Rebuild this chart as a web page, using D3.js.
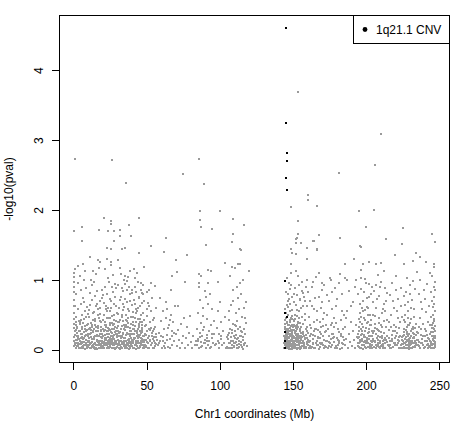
<!DOCTYPE html>
<html>
<head>
<meta charset="utf-8">
<script src="https://cdn.jsdelivr.net/npm/d3@7"></script>
<style>
  body { margin: 0; background: #fff; }
  text { font-family: "Liberation Sans", Arial, Helvetica, sans-serif; font-size: 12px; fill: #000; }
</style>
</head>
<body>
<div class="canvas"></div>
<script>
// [position (Mb), -log10(pval)], chromosome 1 p arm
const pArm = [
  [0.4,0.05],[0.5,0.18],[0.6,0.31],[0.5,0.44],[0.7,0.52],[0.4,0.63],[0.6,0.71],[0.5,0.82],[0.7,0.9],[0.5,0.97],[0.6,1.04],[0.5,1.1],[0.8,1.15],[0.9,0.26],[0.6,0.37],[1.1,0.09],[1.4,0.21],[1.8,0.03],[2.2,0.14],[2.5,0.33],[2.9,0.07],[3.1,0.58],[3.4,0.19],[3.7,0.41],[4.0,0.02],[4.2,0.12],[4.6,0.27],[4.9,0.66],[5.1,0.08],[5.3,0.16],[5.6,0.49],[5.9,0.04],[6.1,0.23],[6.4,0.11],[6.7,0.38],[6.9,0.74],[7.2,0.06],[7.5,0.17],[7.8,0.29],[8.0,0.55],[8.3,0.1],[8.6,0.21],[8.9,0.88],[9.2,0.03],[9.5,0.35],[9.8,0.13],[1.6,0.47],[2.0,0.79],[3.0,0.95],[4.4,1.05],[5.0,0.85],[6.3,1.22],[7.0,0.99],[8.1,1.12],[9.0,0.61],[2.7,0.24],[3.9,0.15],[5.8,0.3],[7.6,0.44],[9.6,0.07],[1.3,0.62],[4.8,0.39],[6.6,0.02],[8.8,0.26],[3.3,0.09],[5.5,0.11],[7.3,0.68],[2.4,0.05],[9.9,0.51],[1.9,0.28],
  [10.1,0.04],[10.3,0.22],[10.6,0.13],[10.8,0.47],[11.1,0.08],[11.4,0.31],[11.6,0.64],[11.9,0.02],[12.2,0.18],[12.4,0.92],[12.7,0.11],[12.9,0.36],[13.2,0.06],[13.5,0.25],[13.7,0.53],[14.0,0.15],[14.3,0.03],[14.5,0.41],[14.8,0.77],[15.0,0.09],[15.3,0.2],[15.6,1.08],[15.8,0.33],[16.1,0.01],[16.4,0.14],[16.6,0.58],[16.9,0.27],[17.2,0.07],[17.4,1.17],[17.7,0.45],[18.0,0.12],[18.2,0.23],[18.5,0.69],[18.8,0.05],[19.0,0.39],[19.3,0.16],[19.6,0.86],[19.8,0.03],[10.5,0.57],[11.2,0.81],[12.0,1.0],[13.0,0.71],[13.9,0.97],[14.6,0.19],[15.4,0.62],[16.2,0.84],[17.0,0.49],[17.9,1.25],[18.6,0.32],[19.4,0.1],[10.9,0.17],[11.8,0.28],[12.6,0.04],[13.3,0.43],[14.2,0.08],[15.1,0.35],[15.9,0.12],[16.8,0.2],[17.5,0.02],[18.3,0.6],[19.1,0.26],[19.9,0.74],[10.2,0.37],[11.5,0.1],[12.9,0.15],[14.1,0.54],[15.7,0.06],[16.5,0.31],[17.8,0.09],[18.9,0.18],[13.6,1.13],[16.0,0.66],[12.3,0.24],[18.1,0.41],[14.9,0.01],
  [20.1,0.05],[20.3,0.19],[20.5,0.42],[20.8,0.11],[21.0,0.67],[21.2,0.03],[21.5,0.28],[21.7,0.89],[22.0,0.14],[22.2,0.07],[22.5,0.36],[22.7,0.55],[23.0,0.02],[23.2,0.22],[23.5,1.02],[23.7,0.13],[24.0,0.46],[24.2,0.08],[24.5,0.3],[24.7,0.73],[25.0,0.17],[25.2,0.04],[25.5,0.59],[25.7,0.25],[26.0,1.21],[26.2,0.09],[26.5,0.38],[26.7,0.12],[27.0,0.83],[27.2,0.06],[27.5,0.21],[27.7,0.5],[28.0,0.15],[28.2,0.94],[28.5,0.01],[28.7,0.33],[29.0,0.1],[29.2,0.62],[29.5,0.19],[29.7,0.04],[20.4,0.78],[21.1,0.5],[21.9,1.15],[22.6,0.63],[23.3,0.8],[24.1,0.97],[24.8,0.56],[25.6,0.7],[26.3,0.48],[27.1,1.07],[27.8,0.66],[28.6,0.76],[29.3,0.88],[20.6,0.27],[21.4,0.14],[22.3,0.32],[23.1,0.09],[23.9,0.18],[24.6,0.02],[25.3,0.35],[26.1,0.2],[26.8,0.06],[27.6,0.29],[28.3,0.12],[29.1,0.41],[29.9,0.23],[20.9,0.07],[21.8,0.16],[22.8,0.45],[23.6,0.26],[24.4,0.11],[25.1,0.05],[25.9,0.15],[26.6,0.24],[27.4,0.03],[28.1,0.37],[28.9,0.08],[29.6,0.53],[22.1,0.58],[24.9,0.38],[26.9,0.18],[28.8,0.22],[21.6,0.4],[23.8,0.6],[25.8,0.1],[27.9,0.02],[29.8,0.31],[26.4,0.9],[22.9,1.3],[25.4,1.26],
  [30.1,0.08],[30.3,0.26],[30.6,0.51],[30.8,0.14],[31.1,0.03],[31.3,0.39],[31.6,0.71],[31.8,0.19],[32.1,0.06],[32.3,1.08],[32.6,0.3],[32.8,0.12],[33.1,0.47],[33.3,0.02],[33.6,0.22],[33.8,0.84],[34.1,0.1],[34.3,0.35],[34.6,0.05],[34.8,0.61],[35.1,0.17],[35.3,0.28],[35.6,0.94],[35.8,0.04],[36.1,0.43],[36.3,0.13],[36.6,0.68],[36.8,0.24],[37.1,0.07],[37.3,1.04],[37.6,0.32],[37.8,0.15],[38.1,0.55],[38.3,0.01],[38.6,0.2],[38.8,0.79],[39.1,0.11],[39.3,0.37],[39.6,0.06],[39.8,0.64],[30.4,0.92],[31.0,0.6],[31.9,1.17],[32.4,0.75],[33.0,0.88],[33.9,0.57],[34.4,1.0],[35.0,0.73],[35.9,0.49],[36.4,0.86],[37.0,0.58],[37.9,0.9],[38.4,0.69],[39.0,1.12],[39.9,0.81],[30.7,0.34],[31.4,0.09],[32.0,0.25],[32.7,0.04],[33.4,0.18],[34.0,0.41],[34.7,0.13],[35.4,0.07],[36.0,0.21],[36.7,0.02],[37.4,0.45],[38.0,0.09],[38.7,0.27],[39.4,0.16],[30.2,0.19],[31.7,0.42],[33.2,0.11],[34.9,0.29],[36.2,0.33],[37.7,0.05],[39.2,0.23],[30.9,0.02],[32.5,0.16],[34.2,0.08],[35.7,0.36],[37.2,0.14],[38.9,0.04],[35.2,1.06],[36.9,0.98],[33.7,0.65],
  [40.1,0.05],[40.3,0.23],[40.6,0.47],[40.8,0.12],[41.1,0.71],[41.3,0.03],[41.6,0.3],[41.8,0.9],[42.1,0.16],[42.3,0.07],[42.6,0.39],[42.8,0.58],[43.1,0.01],[43.3,0.24],[43.6,1.1],[43.8,0.13],[44.1,0.44],[44.3,0.09],[44.6,0.32],[44.8,0.76],[45.1,0.18],[45.3,0.04],[45.6,0.62],[45.8,0.27],[46.1,0.95],[46.3,0.1],[46.6,0.36],[46.8,0.15],[47.1,0.81],[47.3,0.06],[47.6,0.2],[47.8,0.52],[48.1,0.14],[48.3,1.19],[48.6,0.02],[48.8,0.34],[40.4,0.85],[41.0,0.54],[41.9,1.03],[42.4,0.66],[43.0,0.83],[43.9,0.97],[44.4,0.6],[45.0,0.74],[45.9,0.49],[46.4,0.86],[47.0,0.67],[47.9,0.8],[48.4,0.7],[40.7,0.29],[41.4,0.15],[42.0,0.34],[42.7,0.08],[43.4,0.19],[44.0,0.03],[44.7,0.37],[45.4,0.21],[46.0,0.06],[46.7,0.28],[47.4,0.11],[48.0,0.43],[48.7,0.22],[40.2,0.09],[41.2,0.17],[42.2,0.46],[43.2,0.27],[44.2,0.12],[45.2,0.05],[46.2,0.16],[47.2,0.25],[48.2,0.04],[40.9,0.4],[42.9,0.11],[44.9,0.02],[46.9,0.31],[48.9,0.07],[43.7,0.55],[45.7,0.4],[47.7,0.93],[41.5,1.15],
  [49.3,0.04],[49.7,0.21],[50.1,0.48],[50.4,0.11],[50.8,0.67],[51.1,0.02],[51.5,0.3],[51.8,0.85],[52.2,0.14],[52.5,0.39],[52.9,0.07],[53.2,0.55],[53.6,0.19],[53.9,0.74],[54.3,0.03],[54.6,0.26],[55.0,0.45],[55.3,0.12],[55.7,0.91],[56.0,0.33],[56.4,0.08],[56.7,0.6],[49.5,0.36],[50.6,0.82],[51.3,0.16],[52.0,0.62],[52.7,0.28],[53.4,0.09],[54.1,0.42],[54.8,0.18],[55.5,0.05],[56.2,0.23],[50.0,0.58],[53.0,0.95],[56.9,0.14],
  [57.5,0.06],[58.2,0.24],[58.9,0.13],[59.6,0.41],[60.3,0.03],[60.9,0.55],[61.5,0.18],[62.1,0.3],[62.7,0.09],[63.2,0.46],[63.8,0.21],[64.3,0.58],[64.9,0.04],[65.4,0.35],[66.0,0.15],[66.5,0.5],[67.1,0.27],[67.6,0.07],[68.2,0.39],[68.8,0.12],[69.4,0.62],[59.0,0.74],[61.0,0.12],[63.5,0.68],[65.8,0.43],[67.3,0.19],[62.4,0.02],[64.6,0.31],[66.8,0.85],[69.9,0.22],
  [70.6,0.05],[71.3,0.28],[72.0,0.14],[72.8,0.02],[73.5,0.37],[74.2,0.09],[74.9,0.2],[75.6,0.45],[76.3,0.03],[77.0,0.16],[77.7,0.32],[78.4,0.07],[79.1,0.24],[79.8,0.48],[80.5,0.11],[81.2,0.02],[82.0,0.19],[82.8,0.06],[83.5,0.13],[71.8,0.62],
  [84.2,0.07],[84.6,0.3],[85.0,0.15],[85.4,0.52],[85.8,0.03],[86.2,0.24],[86.6,0.71],[87.0,0.11],[87.4,0.38],[87.8,0.05],[88.2,0.19],[88.6,0.6],[89.0,0.09],[89.4,0.33],[89.8,0.84],[90.2,0.14],[90.6,0.02],[91.0,0.44],[91.4,0.21],[91.8,0.66],[92.2,0.07],[92.6,0.27],[93.0,0.12],[93.4,0.79],[93.8,0.04],[94.2,0.35],[94.6,0.17],[95.0,0.58],[95.4,0.09],[95.8,0.23],[96.2,0.41],[96.6,0.06],[85.6,0.9],[87.2,1.05],[88.8,0.48],[90.4,0.75],[92.0,0.96],[94.0,1.12],[91.2,0.13],[86.4,0.18],
  [97.3,0.08],[97.9,0.31],[98.5,0.12],[99.0,0.55],[99.4,0.03],[99.8,0.22],[100.2,0.68],[100.6,0.15],[101.0,0.4],[101.5,0.06],[102.1,0.27],[102.8,0.1],[103.5,0.47],[104.2,0.02],[104.8,0.18],
  [105.2,0.04],[105.6,0.21],[106.0,0.1],[106.4,0.43],[106.8,0.02],[107.2,0.3],[107.6,0.64],[108.0,0.13],[108.4,0.07],[108.8,0.37],[109.2,0.85],[109.6,0.19],[110.0,0.05],[110.4,0.26],[110.8,0.52],[111.2,0.11],[111.6,0.03],[112.0,0.41],[112.4,0.74],[112.8,0.16],[113.2,0.08],[113.6,0.33],[114.0,0.95],[114.4,0.2],[114.8,0.06],[115.2,0.47],[115.6,0.14],[116.0,0.01],[116.4,0.29],[116.8,0.6],[117.2,0.1],[117.6,0.22],[118.0,0.38],[118.4,0.05],[107.0,1.05],[109.0,0.7],[110.6,1.17],[111.8,0.9],[113.0,0.58],[114.6,0.79],[116.2,1.0],[117.8,0.68],[106.2,0.55],[108.2,0.24],[109.8,0.09],[110.2,0.17],[111.0,0.34],[112.2,0.02],[113.4,0.12],[114.2,0.27],[115.0,0.04],[115.8,0.18],[116.6,0.08],[117.4,0.45],[112.6,1.22]
]

// the packed band near zero on the p arm
const pArmLow = [
  [0.6,0.12],[0.9,0.06],[1.2,0.27],[1.5,0.14],[1.7,0.35],[2.1,0.02],[2.3,0.2],[2.6,0.1],[2.8,0.31],[3.2,0.05],[3.5,0.16],[3.8,0.26],[4.1,0.08],[4.3,0.37],[4.7,0.13],[5.0,0.03],[5.2,0.22],[5.7,0.18],[6.0,0.09],[6.2,0.32],[6.5,0.15],[6.8,0.05],[7.1,0.25],[7.4,0.11],[7.7,0.01],[7.9,0.19],[8.2,0.34],[8.5,0.07],[8.7,0.14],[9.1,0.28],[9.4,0.04],[9.7,0.2],[10.0,0.11],[10.4,0.29],[10.7,0.06],[11.0,0.17],[11.3,0.02],[11.7,0.23],[12.1,0.1],[12.5,0.33],[12.8,0.05],[13.1,0.15],[13.4,0.27],[13.8,0.04],[14.4,0.18],[14.7,0.09],[15.2,0.26],[15.5,0.02],[16.3,0.21],[16.7,0.07],[17.1,0.34],[17.3,0.13],[17.6,0.19],[18.4,0.03],[18.7,0.28],[19.2,0.08],[19.5,0.22],[19.7,0.13],[20.0,0.3],[20.2,0.1],[20.7,0.02],[21.3,0.21],[21.6,0.09],[22.4,0.17],[22.9,0.06],[23.4,0.31],[23.8,0.04],[24.3,0.23],[24.5,0.14],[25.0,0.28],[25.4,0.08],[25.8,0.19],[26.4,0.03],[26.7,0.3],[27.3,0.15],[27.7,0.07],[28.4,0.25],[28.8,0.12],[29.4,0.02],[29.7,0.18],[30.0,0.27],[30.5,0.06],[31.2,0.13],[31.5,0.24],[32.2,0.01],[32.9,0.2],[33.5,0.08],[34.5,0.16],[35.1,0.03],[35.5,0.32],[36.5,0.1],[36.9,0.06],[37.5,0.22],[38.2,0.13],[38.5,0.31],[39.5,0.08],[39.7,0.26],[40.0,0.14],[40.5,0.03],[41.7,0.22],[42.5,0.12],[43.5,0.05],[43.9,0.3],[44.5,0.17],[45.5,0.09],[46.5,0.24],[47.5,0.02],[47.9,0.14],[48.5,0.11],[26.0,0.13],[27.0,0.35],[28.0,0.09],[29.0,0.26],[31.0,0.19],[33.0,0.34],[34.0,0.24],[36.0,0.12],[37.0,0.38],[38.0,0.23],[39.0,0.02],[41.0,0.09],[42.0,0.27],[44.0,0.21],[45.0,0.35],[46.0,0.13],[47.0,0.39],[48.0,0.19],[2.0,0.4],[5.4,0.42],[8.4,0.47],[11.9,0.38],[15.0,0.44],[18.5,0.51],[21.8,0.36],[24.8,0.45],[27.5,0.42],[30.5,0.39],[33.5,0.5],[36.6,0.41],[39.6,0.47],[42.7,0.53],[45.3,0.44],[14.0,0.3],[16.9,0.11],[22.7,0.26],[34.8,0.1],[40.8,0.35],
  [49.4,0.14],[49.9,0.05],[50.3,0.27],[50.9,0.09],[51.4,0.2],[51.9,0.03],[52.4,0.12],[52.8,0.31],[53.3,0.06],[53.8,0.24],[54.4,0.15],[54.9,0.02],[55.4,0.29],[55.9,0.1],[56.5,0.18],
  [58.5,0.1],[60.0,0.2],[61.8,0.05],[64.0,0.14],[66.3,0.03],[68.5,0.24],[85.2,0.12],[86.9,0.04],[88.4,0.28],[89.6,0.1],[91.6,0.17],[93.2,0.03],[94.8,0.22],[99.6,0.1],[101.2,0.2],
  [105.4,0.15],[105.9,0.03],[106.5,0.24],[107.0,0.09],[107.5,0.18],[108.1,0.02],[108.6,0.28],[109.1,0.12],[109.5,0.04],[110.1,0.35],[110.5,0.1],[111.1,0.21],[111.5,0.06],[112.1,0.15],[112.7,0.3],[113.3,0.04],[113.8,0.19],[114.5,0.11],[115.4,0.25],[116.3,0.07]
]

// sparse high points on the p arm
const pArmHigh = [
  [1.2,2.73],[26.5,2.72],[35.9,2.39],[75.1,2.52],[86.1,2.73],[89.3,2.37],[86.8,1.99],[100.5,1.99],[21.0,1.88],[25.8,1.84],[25.8,1.80],[45.0,1.88],[6.0,1.75],[0.5,1.70],[17.6,1.71],[23.8,1.70],[27.9,1.70],[32.0,1.72],[38.2,1.78],[32.0,1.62],[39.5,1.62],[63.5,1.60],[6.0,1.56],[27.9,1.56],[53.2,1.48],[23.0,1.45],[25.8,1.44],[35.4,1.45],[33.4,1.44],[86.8,1.86],[109.4,1.87],[116.9,1.79],[87.4,1.76],[95.0,1.73],[109.4,1.66],[108.7,1.54],[90.9,1.50],[114.1,1.44],[114.2,1.42],[103.9,1.24],[108.7,1.19],[113.7,1.22],[119.7,1.13],[62.0,1.40],[77.7,1.35],[70.3,1.29],[70.8,1.11],[67.4,1.06],[85.7,1.09],[91.8,1.14],[98.6,0.97],[85.7,0.95],[76.0,0.97],[11.4,1.33],[17.1,1.29],[30.4,1.29],[45.0,1.39],[3.4,1.2]
]

// q arm
const qArm = [
  [144.1,0.03],[144.3,0.15],[144.6,0.29],[144.8,0.08],[145.0,0.46],[145.3,0.02],[145.5,0.21],[145.8,0.64],[146.0,0.11],[146.2,0.05],[146.5,0.35],[146.7,0.79],[147.0,0.17],[147.2,0.01],[147.5,0.27],[147.7,0.55],[148.0,0.09],[148.2,0.4],[148.5,0.14],[148.7,0.92],[149.0,0.06],[149.2,0.23],[149.5,0.48],[149.7,0.12],[144.4,0.58],[145.1,0.83],[145.9,1.02],[146.6,0.7],[147.3,0.96],[148.1,0.66],[148.8,1.1],[149.4,0.75],[144.9,0.37],[145.6,0.1],[146.3,0.24],[147.1,0.04],[147.8,0.31],[148.4,0.19],[149.1,0.02],[149.8,0.33],[144.2,0.2],[144.7,0.07],[145.2,0.13],[145.7,0.39],[146.1,0.16],[146.8,0.26],[147.4,0.07],[147.9,0.43],[148.6,0.05],[149.3,0.16],[149.9,0.09],[145.4,0.52],[146.4,0.61],[147.6,0.73],[148.3,0.87],[149.6,0.57],[146.9,0.1],[148.9,0.28],[147.15,0.36],[146.05,0.2],[145.45,0.06],[148.45,0.01],[149.45,0.25],[147.65,0.13],[145.65,0.3],[146.55,0.04],[148.15,0.22],[149.15,0.44],[144.55,0.11],[147.35,0.18],[148.65,0.34],[146.85,0.5],[145.15,0.24],[149.65,0.04],[147.85,0.08],[146.25,0.12],[145.85,0.17],[148.25,0.06],[149.85,0.19],[144.65,0.42],
  [150.1,0.04],[150.3,0.19],[150.5,0.41],[150.8,0.1],[151.0,0.68],[151.2,0.02],[151.5,0.27],[151.7,0.88],[152.0,0.14],[152.2,0.06],[152.5,0.35],[152.7,0.57],[153.0,0.01],[153.2,0.22],[153.5,1.05],[153.7,0.12],[154.0,0.45],[154.2,0.08],[154.5,0.3],[154.7,0.73],[155.0,0.16],[155.2,0.03],[155.5,0.6],[155.7,0.24],[156.0,0.97],[156.3,0.09],[156.6,0.37],[156.9,0.13],[157.2,0.81],[157.5,0.05],[157.8,0.2],[158.1,0.51],[158.4,0.15],[158.7,0.9],[159.0,0.02],[159.3,0.33],[159.6,0.11],[159.9,0.63],[150.4,0.8],[151.1,0.5],[151.9,1.12],[152.4,0.64],[153.1,0.78],[153.9,0.93],[154.4,0.55],[155.1,0.71],[155.9,0.47],[156.4,0.84],[157.0,0.62],[157.9,0.76],[158.5,0.69],[159.4,1.0],[150.6,0.28],[151.4,0.13],[152.1,0.31],[152.8,0.07],[153.4,0.17],[154.1,0.03],[154.8,0.38],[155.4,0.2],[156.1,0.05],[156.8,0.25],[157.4,0.1],[158.2,0.42],[158.9,0.21],[159.7,0.08],[150.2,0.07],[150.9,0.16],[151.6,0.44],[152.3,0.26],[153.3,0.11],[154.3,0.06],[155.3,0.14],[156.5,0.18],[157.6,0.03],[158.6,0.29],[159.5,0.17],[150.7,0.36],[151.3,0.05],[152.6,0.19],[153.6,0.32],[154.6,0.12],[155.6,0.09],[152.9,0.48],[153.8,0.23],[154.9,0.01],[151.8,0.21],[150.0,0.12],[151.45,0.34],[153.15,0.4],[152.15,0.02],
  [160.2,0.06],[160.6,0.24],[161.0,0.47],[161.4,0.12],[161.8,0.7],[162.2,0.03],[162.6,0.31],[163.0,0.9],[163.4,0.15],[163.8,0.08],[164.2,0.39],[164.6,0.58],[165.0,0.02],[165.4,0.2],[165.8,1.04],[166.2,0.13],[166.6,0.43],[167.0,0.07],[167.4,0.28],[167.8,0.76],[168.2,0.17],[168.6,0.04],[169.0,0.6],[169.4,0.22],[169.8,0.86],[170.2,0.1],[170.6,0.34],[171.0,0.14],[171.4,0.52],[171.8,0.05],[160.4,0.82],[161.6,0.36],[162.8,0.63],[164.0,0.97],[165.2,0.74],[166.4,0.55],[167.6,1.1],[168.8,0.4],[170.0,0.68],[171.2,0.92],[160.8,0.11],[162.0,0.19],[163.2,0.04],[164.4,0.26],[165.6,0.09],[166.8,0.18],[168.0,0.01],[169.2,0.33],[170.4,0.07],[171.6,0.25],[161.2,0.02],[163.6,0.21],[166.0,0.3],[168.4,0.1],[170.8,0.44],
  [172.3,0.04],[172.7,0.27],[173.1,0.12],[173.5,0.5],[174.0,0.02],[174.4,0.19],[174.8,0.69],[175.3,0.09],[175.7,0.35],[176.1,0.15],[176.6,0.83],[177.0,0.06],[177.4,0.23],[177.9,0.46],[178.3,0.11],[178.7,0.03],[179.2,0.38],[179.6,0.62],[180.0,0.17],[180.5,0.07],[180.9,0.29],[181.3,0.95],[181.8,0.13],[182.2,0.01],[182.6,0.42],[183.1,0.2],[183.5,0.56],[183.9,0.08],[184.4,0.3],[184.8,0.14],[173.3,0.78],[175.0,1.02],[176.8,0.58],[178.5,0.88],[180.2,0.72],[182.0,1.08],[183.7,0.8],[172.9,0.35],[174.6,0.05],[176.4,0.22],[178.0,0.18],[179.8,0.02],[181.5,0.25],[183.3,0.1],[184.6,0.49],
  [185.3,0.07],[185.8,0.32],[186.4,0.15],[186.9,0.55],[187.5,0.03],[188.0,0.22],[188.6,0.84],[189.1,0.11],[189.7,0.4],[190.2,0.05],[190.8,0.26],[191.3,0.68],[191.9,0.14],[192.4,0.02],[193.0,0.36],[193.6,0.18],[187.2,1.0],[189.4,0.62],[192.7,0.9],[186.1,0.45],
  [194.2,0.05],[194.5,0.22],[194.9,0.44],[195.2,0.1],[195.5,0.66],[195.9,0.02],[196.2,0.29],[196.5,0.87],[196.9,0.15],[197.2,0.07],[197.5,0.37],[197.9,0.56],[198.2,0.01],[198.5,0.21],[198.9,1.01],[199.2,0.12],[199.5,0.43],[199.9,0.09],[200.2,0.31],[200.5,0.74],[200.9,0.16],[201.2,0.04],[201.5,0.59],[201.9,0.25],[202.2,0.94],[202.5,0.08],[202.9,0.36],[203.2,0.13],[203.5,0.8],[203.9,0.06],[204.2,0.2],[204.6,0.49],[194.7,0.79],[195.7,0.52],[196.7,1.14],[197.7,0.7],[198.7,0.83],[199.7,0.96],[200.7,0.61],[201.7,0.76],[202.7,0.5],[203.7,0.89],[204.4,0.68],[195.0,0.33],[196.0,0.14],[197.0,0.26],[198.0,0.06],[199.0,0.18],[200.0,0.03],[201.0,0.4],[202.0,0.19],[203.0,0.05],[204.0,0.27],[194.4,0.1],[195.4,0.18],[196.4,0.47],[197.4,0.23],[198.4,0.11],[199.4,0.04],[200.4,0.15],[201.4,0.24],[202.4,0.02],[203.4,0.35],[204.8,0.12],[198.1,1.23],
  [205.2,0.04],[205.6,0.26],[206.0,0.11],[206.4,0.48],[206.8,0.02],[207.2,0.3],[207.6,0.72],[208.0,0.14],[208.4,0.07],[208.8,0.38],[209.2,0.9],[209.6,0.18],[210.0,0.05],[210.4,0.25],[210.8,0.53],[211.2,0.12],[211.6,0.03],[212.0,0.41],[212.4,0.65],[212.8,0.16],[213.2,0.09],[213.6,0.33],[214.0,0.81],[214.4,0.2],[214.8,0.06],[205.4,0.84],[206.6,0.6],[207.8,1.07],[209.0,0.77],[210.2,0.97],[211.4,0.58],[212.6,0.88],[213.8,0.7],[205.8,0.37],[206.2,0.13],[207.0,0.22],[207.4,0.05],[208.2,0.19],[208.6,0.45],[209.4,0.1],[209.8,0.03],[210.6,0.16],[211.0,0.32],[211.8,0.08],[212.2,0.24],[213.0,0.02],[213.4,0.14],[214.2,0.43],[214.6,0.11],[205.0,0.15],[207.9,0.28],[210.9,0.07],[212.9,0.55],[206.9,0.92],[211.9,1.12],
  [215.3,0.05],[215.8,0.28],[216.3,0.13],[216.8,0.5],[217.3,0.02],[217.8,0.21],[218.3,0.7],[218.8,0.1],[219.3,0.36],[219.8,0.16],[220.3,0.85],[220.8,0.06],[221.3,0.24],[221.8,0.45],[222.3,0.12],[222.8,0.03],[223.3,0.39],[223.8,0.63],[224.3,0.18],[224.8,0.08],[216.0,0.78],[217.5,0.95],[219.0,0.6],[220.5,1.05],[222.0,0.73],[223.5,0.88],[215.5,0.4],[216.5,0.07],[217.0,0.33],[218.0,0.15],[218.5,0.04],[219.5,0.27],[220.0,0.09],[221.0,0.55],[221.5,0.14],[222.5,0.31],[223.0,0.2],[224.0,0.02],[224.5,0.47],[220.6,0.19],
  [225.2,0.03],[225.5,0.19],[225.9,0.42],[226.2,0.1],[226.5,0.64],[226.9,0.02],[227.2,0.28],[227.5,0.82],[227.9,0.14],[228.2,0.06],[228.5,0.35],[228.9,0.55],[229.2,0.01],[229.5,0.22],[229.9,0.93],[230.2,0.12],[230.5,0.44],[230.9,0.08],[231.2,0.3],[231.5,0.71],[231.9,0.17],[232.2,0.04],[232.6,0.58],[233.0,0.23],[233.4,0.87],[233.8,0.09],[234.2,0.37],[234.6,0.14],[225.7,0.77],[226.7,0.5],[227.7,1.02],[228.7,0.68],[229.7,0.79],[230.7,0.6],[231.7,0.98],[232.8,0.47],[225.4,0.08],[226.0,0.25],[226.4,0.15],[227.0,0.06],[227.4,0.11],[228.0,0.33],[228.4,0.2],[229.0,0.09],[229.4,0.04],[230.0,0.16],[230.4,0.27],[231.0,0.02],[231.4,0.1],[232.0,0.32],[232.4,0.18],[233.2,0.05],[233.6,0.12],[234.0,0.21],[228.6,0.13],
  [235.2,0.06],[235.6,0.24],[236.0,0.11],[236.5,0.46],[236.9,0.02],[237.3,0.29],[237.7,0.68],[238.2,0.15],[238.6,0.07],[239.0,0.37],[239.5,0.86],[239.9,0.19],[240.3,0.04],[240.8,0.26],[241.2,0.54],[241.6,0.12],[242.1,0.03],[242.5,0.4],[235.8,0.8],[237.0,1.0],[238.4,0.58],[240.0,0.73],[241.4,0.94],[242.8,0.62],[236.2,0.33],[237.5,0.09],[238.9,0.2],[240.5,0.13],[241.9,0.21],[242.3,0.08],
  [243.1,0.05],[243.4,0.22],[243.8,0.12],[244.1,0.47],[244.5,0.03],[244.8,0.31],[245.1,0.7],[245.4,0.15],[245.7,0.08],[246.0,0.38],[246.2,0.9],[246.5,0.18],[246.8,0.04],[247.0,0.27],[246.9,0.56],[247.1,0.11],[244.3,0.82],[245.0,1.05],[245.6,0.61],[246.1,1.18],[246.6,0.76],[246.95,0.97],[246.7,0.66],[243.6,0.35],[244.0,0.09],[244.7,0.19],[245.2,0.02],[245.9,0.25],[246.3,0.13],[246.4,0.44],[247.05,0.06],[246.85,0.2],[246.75,0.34],[245.8,0.5],[246.9,0.85]
]

// the packed band near zero on the q arm
const qArmLow = [
  [144.2,0.09],[144.5,0.33],[144.7,0.18],[145.0,0.05],[145.3,0.26],[145.5,0.12],[145.8,0.02],[146.0,0.38],[146.2,0.15],[146.4,0.07],[146.7,0.22],[146.9,0.3],[147.1,0.11],[147.3,0.03],[147.5,0.17],[147.7,0.41],[147.9,0.2],[148.1,0.05],[148.3,0.12],[148.5,0.27],[148.7,0.08],[148.9,0.46],[149.1,0.14],[149.3,0.01],[149.5,0.35],[149.7,0.21],[149.9,0.06],[150.1,0.28],[150.3,0.1],[150.5,0.03],[150.7,0.18],[150.9,0.43],[151.1,0.08],[151.3,0.24],[151.5,0.13],[151.7,0.04],[151.9,0.32],[152.1,0.16],[152.3,0.07],[152.5,0.22],[152.7,0.11],[152.9,0.02],[153.1,0.29],[153.3,0.15],[153.5,0.06],[153.7,0.38],[153.9,0.1],[154.2,0.2],[154.5,0.04],[154.8,0.26],[155.1,0.09],[155.5,0.17],[155.8,0.33],[156.2,0.05],[156.6,0.12],[157.1,0.23],[157.7,0.08],[158.3,0.16],[158.8,0.04],[159.5,0.27],
  [160.5,0.14],[161.5,0.05],[162.4,0.23],[163.5,0.1],[164.5,0.03],[165.3,0.3],[166.5,0.06],[167.2,0.16],[168.3,0.25],[169.5,0.08],[170.5,0.19],[171.5,0.02],[172.5,0.13],[173.8,0.29],[174.9,0.11],[176.0,0.04],[177.2,0.17],[178.2,0.32],[179.4,0.05],[180.6,0.14],[181.6,0.09],[182.8,0.22],[183.8,0.03],[184.2,0.18],[176.9,0.38],
  [194.3,0.16],[194.8,0.04],[195.3,0.27],[195.8,0.11],[196.3,0.02],[196.8,0.21],[197.3,0.13],[197.8,0.33],[198.3,0.07],[198.8,0.18],[199.3,0.26],[199.8,0.03],[200.3,0.12],[200.8,0.38],[201.3,0.09],[201.8,0.15],[202.3,0.29],[202.8,0.05],[203.3,0.19],[203.8,0.11],[204.3,0.02],[204.9,0.24],[205.5,0.13],[206.1,0.31],[206.7,0.06],[207.3,0.17],[207.9,0.09],[208.5,0.26],[209.1,0.04],[209.7,0.13],[210.3,0.35],[210.9,0.2],[211.5,0.05],[212.1,0.14],[196.1,0.4],[198.6,0.45],[201.1,0.5],[203.1,0.42],[199.1,0.57],[197.1,0.6],
  [215.6,0.17],[216.6,0.02],[217.6,0.12],[218.6,0.26],[219.6,0.06],[220.6,0.33],[221.6,0.09],[222.6,0.18],
  [225.1,0.12],[225.6,0.04],[226.1,0.3],[226.6,0.09],[227.1,0.18],[227.6,0.02],[228.1,0.25],[228.6,0.06],[229.1,0.15],[229.6,0.35],[230.1,0.07],[230.6,0.2],[231.1,0.13],[231.6,0.03],[232.1,0.24],[232.5,0.1],[232.9,0.16],[233.5,0.04],[226.3,0.4],[228.3,0.46],[230.3,0.38],[231.8,0.29],[227.8,0.22],[229.8,0.11],[225.8,0.21],[233.1,0.31],[234.4,0.06],[234.8,0.25],[224.6,0.14],[223.6,0.06],
  [235.4,0.14],[236.4,0.05],[237.4,0.21],[238.4,0.1],[239.4,0.02],[240.4,0.3],[241.4,0.07],[242.4,0.16],
  [243.2,0.15],[243.7,0.04],[244.2,0.25],[244.6,0.11],[245.0,0.36],[245.3,0.07],[245.7,0.2],[246.0,0.14],[246.3,0.03],[246.6,0.29],[246.9,0.09],[247.0,0.17],[246.2,0.41],[245.5,0.31],[244.4,0.06]
]

// sparse high points on the q arm
const qArmHigh = [
  [153.7,3.69],[210.5,3.09],[206.0,2.65],[181.8,2.53],[160.1,2.22],[160.1,2.14],[166.2,2.06],[148.6,2.04],[195.0,1.99],[205.4,2.0],[153.2,1.84],[167.6,1.64],[153.2,1.66],[152.5,1.60],[151.8,1.59],[155.3,1.53],[164.2,1.56],[159.4,1.45],[166.2,1.44],[149.0,1.44],[199.7,1.76],[225.0,1.74],[245.0,1.65],[181.9,1.60],[213.5,1.59],[247.1,1.54],[224.4,1.51],[195.6,1.48],[152.3,1.52],[164.0,1.55],[159.4,1.46],[149.6,1.38],[151.8,1.37],[159.4,1.30],[149.0,1.23],[166.2,1.42],[185.6,1.22],[191.4,1.30],[196.4,1.47],
  [219.6,1.35],[234.0,1.38],[236.6,1.33],[202.0,1.26],[206.6,1.23],[210.5,1.24],[226.0,1.22],[232.2,1.27],[240.9,1.25],[246.2,1.22],[234.7,1.11],[243.6,1.10],[170.1,0.95],[175.8,1.0],[185.4,1.02],[193.0,0.99],[196.4,1.02]
]

// probes inside the 1q21.1 CNV (drawn black)
const cnvProbes = [
  [145.2,4.6],[145.2,3.24],[145.7,2.81],[145.7,2.7],[145.5,2.46],[145.7,2.29],[144.8,0.98],[144.8,0.53],[145.7,0.47],[144.8,0.25],[144.9,0.13],[144.8,0.03]
]

const xTicks = [0, 50, 100, 150, 200, 250]
const yTicks = [0, 1, 2, 3, 4]
const legendLabel = "1q21.1 CNV"

const width = 464
const height = 432
const box = { left: 59.5, right: 449.5, top: 15.5, bottom: 362.5 }

const grayPoints = pArm.concat(pArmLow, pArmHigh, qArm, qArmLow, qArmHigh)
const allPoints = grayPoints.concat(cnvProbes)

// R style 4% padding on each side
const padded = ext => {
  const r = ext[1] - ext[0]
  return [ext[0] - 0.04 * r, ext[1] + 0.04 * r]
}

const x = d3.scaleLinear()
  .domain(padded(d3.extent(allPoints, d => d[0])))
  .range([box.left, box.right])

const y = d3.scaleLinear()
  .domain(padded([0, d3.max(allPoints, d => d[1])]))
  .range([box.bottom, box.top])

const svg = d3.select(".canvas")
  .append("svg")
    .attr("width", width)
    .attr("height", height)

svg.append("rect")
  .attr("width", width)
  .attr("height", height)
  .attr("fill", "#fff")

const dots = svg.append("g").attr("shape-rendering", "crispEdges")

dots.selectAll("rect.gray")
  .data(grayPoints)
  .enter()
  .append("rect")
    .attr("class", "gray")
    .attr("x", d => Math.round(x(d[0])) - 1)
    .attr("y", d => Math.round(y(d[1])) - 1)
    .attr("width", 2)
    .attr("height", 2)
    .attr("fill", "#9a9a9a")

dots.selectAll("rect.cnv")
  .data(cnvProbes)
  .enter()
  .append("rect")
    .attr("class", "cnv")
    .attr("x", d => Math.round(x(d[0])) - 1)
    .attr("y", d => Math.round(y(d[1])) - 1)
    .attr("width", 2)
    .attr("height", 2)
    .attr("fill", "#000")

// plot box
svg.append("rect")
  .attr("x", box.left)
  .attr("y", box.top)
  .attr("width", box.right - box.left)
  .attr("height", box.bottom - box.top)
  .attr("fill", "none")
  .attr("stroke", "#000")
  .attr("shape-rendering", "crispEdges")

// axes
const xAxis = d3.axisBottom(x)
  .tickValues(xTicks)
  .tickSize(7)
  .tickFormat(d3.format("d"))

const yAxis = d3.axisLeft(y)
  .tickValues(yTicks)
  .tickSize(8)
  .tickFormat(d3.format("d"))

const xAxisGroup = svg.append("g")
  .attr("transform", `translate(0, ${box.bottom})`)
  .call(xAxis)

const yAxisGroup = svg.append("g")
  .attr("transform", `translate(${box.left}, 0)`)
  .call(yAxis)

for (const g of [xAxisGroup, yAxisGroup]) {
  g.select(".domain").remove()
  g.attr("font-size", null).attr("font-family", null)
  g.selectAll("line").attr("stroke", "#000").attr("shape-rendering", "crispEdges")
}

xAxisGroup.selectAll("text")
  .attr("y", 27)
  .attr("dy", null)

// R draws y tick labels parallel to the axis
yAxisGroup.selectAll("text")
  .attr("x", null)
  .attr("dy", null)
  .attr("text-anchor", "middle")
  .attr("transform", "translate(-17, 0) rotate(-90)")

// titles
svg.append("text")
  .attr("x", (box.left + box.right) / 2)
  .attr("y", 418)
  .attr("text-anchor", "middle")
  .text("Chr1 coordinates (Mb)")

svg.append("text")
  .attr("transform", `translate(13, ${(box.top + box.bottom) / 2}) rotate(-90)`)
  .attr("text-anchor", "middle")
  .text("-log10(pval)")

// legend
const legend = svg.append("g")
legend.append("rect")
  .attr("x", 353.5)
  .attr("y", box.top)
  .attr("width", box.right - 353.5)
  .attr("height", 28)
  .attr("fill", "#fff")
  .attr("stroke", "#000")
  .attr("shape-rendering", "crispEdges")
legend.append("circle")
  .attr("cx", 365)
  .attr("cy", 29.5)
  .attr("r", 2.4)
  .attr("fill", "#000")
legend.append("text")
  .attr("x", 376)
  .attr("y", 33.5)
  .text(legendLabel)
</script>
</body>
</html>
